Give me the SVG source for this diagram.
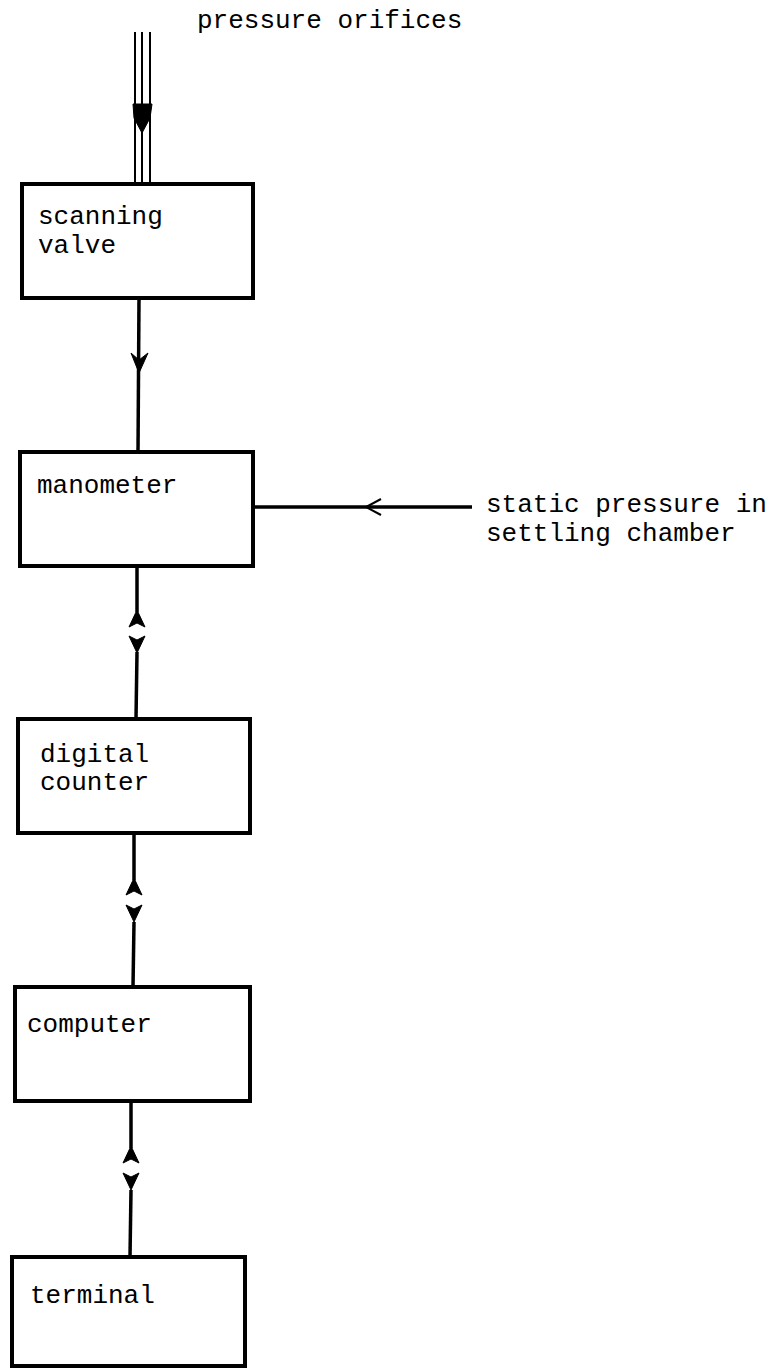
<svg xmlns="http://www.w3.org/2000/svg" width="783" height="1369" viewBox="0 0 783 1369">
<style>
.box{fill:none;stroke:#000;stroke-width:4}
.ln{fill:none;stroke:#000;stroke-width:3.5}
.thin{fill:none;stroke:#000;stroke-width:2}
.ah{fill:#000;stroke:#000;stroke-width:1}
text{font-family:"Liberation Mono","DejaVu Sans Mono",monospace;font-size:26px;fill:#000}
</style>
<rect width="783" height="1369" fill="#fff"/>
<g id="connectors">
  <line class="thin" x1="135" y1="32" x2="135" y2="184"/>
  <line class="thin" x1="142" y1="32" x2="142" y2="184"/>
  <line class="thin" x1="150" y1="32" x2="150" y2="184"/>
  <path class="ah" d="M133,104 L152,104 L150,118 L142,133 L134,118 Z"/>
  <line class="ln" x1="139" y1="298" x2="138" y2="452"/>
  <path class="ah" d="M131,353 L139,373 L148,353 L139,360 Z"/>
  <line class="ln" x1="137" y1="566" x2="137" y2="612"/>
  <path class="ah" d="M137,610 L129,627 L137,623 L145,627 Z"/>
  <line class="ln" x1="137" y1="652" x2="136" y2="719"/>
  <path class="ah" d="M129,636 L137,653 L145,636 L137,640 Z"/>
  <line class="ln" x1="134" y1="833" x2="134" y2="880"/>
  <path class="ah" d="M134,878 L126,895 L134,891 L142,895 Z"/>
  <line class="ln" x1="134" y1="922" x2="133" y2="987"/>
  <path class="ah" d="M126,905 L134,922 L142,905 L134,909 Z"/>
  <line class="ln" x1="131" y1="1101" x2="131" y2="1148"/>
  <path class="ah" d="M131,1146 L123,1163 L131,1159 L139,1163 Z"/>
  <line class="ln" x1="131" y1="1190" x2="130" y2="1257"/>
  <path class="ah" d="M123,1173 L131,1190 L139,1173 L131,1177 Z"/>
  <line class="ln" x1="253" y1="507" x2="472" y2="507"/>
  <path class="thin" d="M381,499 L366,507 L381,515"/>
</g>
<g id="pressure-orifices"><text x="197" y="28">pressure orifices</text></g>
<g id="static-pressure"><text x="486" y="512">static pressure in</text><text x="486" y="541">settling chamber</text></g>
<g id="scanning-valve"><path class="box" d="M22,184 L253,184 L253,298 L22,298 Z"/><text x="38" y="224">scanning</text><text x="38" y="253">valve</text></g>
<g id="manometer"><path class="box" d="M20,452 L253,452 L253,566 L20,566 Z"/><text x="37" y="493">manometer</text></g>
<g id="digital-counter"><path class="box" d="M18,719 L250,719 L250,833 L18,833 Z"/><text x="40" y="762">digital</text><text x="40" y="790">counter</text></g>
<g id="computer"><path class="box" d="M15,987 L250,987 L250,1101 L15,1101 Z"/><text x="27" y="1032">computer</text></g>
<g id="terminal"><path class="box" d="M12,1257 L245,1257 L245,1366 L12,1366 Z"/><text x="30" y="1303">terminal</text></g>
</svg>
